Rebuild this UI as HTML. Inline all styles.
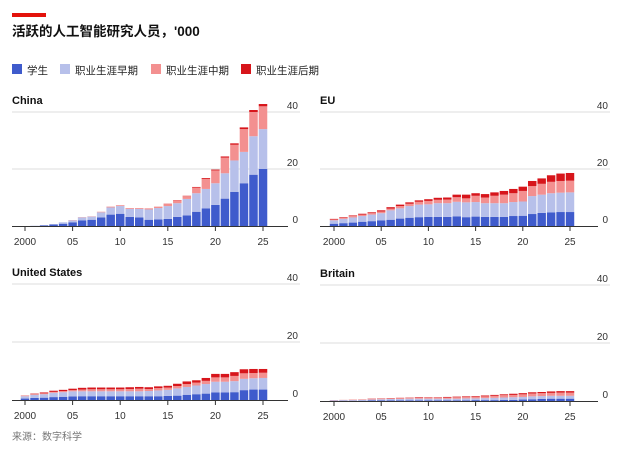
<!DOCTYPE html>
<html><head><meta charset="utf-8"><style>
body{margin:0;background:#fff;width:640px;height:453px;overflow:hidden;font-family:"Liberation Sans","Noto Sans CJK SC",sans-serif}
svg text{font-family:"Liberation Sans","Noto Sans CJK SC",sans-serif}
</style></head><body>
<svg id="c" width="640" height="453">
<rect x="12" y="13" width="34" height="4" fill="#e3120b"/>
<text x="12" y="36" font-size="13.5" font-weight="bold" fill="#111">活跃的人工智能研究人员，'000</text>
<g font-size="10.5" fill="#222">
<rect x="12" y="64" width="10" height="10" fill="#3f5bcc"/><text x="27" y="74">学生</text>
<rect x="60" y="64" width="10" height="10" fill="#b7c0ea"/><text x="75" y="74">职业生涯早期</text>
<rect x="151" y="64" width="10" height="10" fill="#f39090"/><text x="166" y="74">职业生涯中期</text>
<rect x="241" y="64" width="10" height="10" fill="#d7151b"/><text x="256" y="74">职业生涯后期</text>
</g>
<text x="12" y="440" font-size="10" fill="#777">来源：数字科学</text>
</svg>
<script>
const years=[2000,2001,2002,2003,2004,2005,2006,2007,2008,2009,2010,2011,2012,2013,2014,2015,2016,2017,2018,2019,2020,2021,2022,2023,2024,2025];
const yTicks=[0,20,40];
const xTickLabels=["2000","05","10","15","20","25"];
const xTickYears=[2000,2005,2010,2015,2020,2025];
const seriesNames=["students","early","mid","late"];
const colors=["#3f5bcc","#b7c0ea","#f39090","#d7151b"];
const chinaStudents=[0,0,0.2,0.5,0.8,1.3,2,2.2,3,4,4.3,3.2,3,2.2,2.3,2.5,3.2,3.7,5,6.2,7.4,9.6,12,15,18,20];
const chinaEarly=[0,0.1,0.3,0.7,1.3,2,3,3.3,4.8,6.5,7,6,6,5.8,6.3,7,8,9.5,11.5,13,15,18.5,23,26,31.5,34];
const chinaMid=[0,0.1,0.3,0.7,1.3,2.1,3.1,3.4,5,6.8,7.3,6.3,6.3,6.2,6.8,7.7,9,10.5,13.5,16.5,19.5,24,28.5,34,40,42];
const chinaLate=[0,0.1,0.3,0.7,1.3,2.1,3.1,3.4,5,6.8,7.3,6.3,6.3,6.2,6.8,7.8,9.1,10.6,13.7,16.8,19.8,24.4,29,34.6,40.7,42.8];
const euStudents=[0.8,1,1.2,1.5,1.7,2,2.2,2.6,2.9,3.1,3.2,3.2,3.2,3.4,3.1,3.3,3.2,3.2,3.2,3.5,3.6,4.2,4.6,4.8,4.9,4.9];
const euEarly=[2,2.5,3,3.5,4,4.5,5.5,6.2,7,7.5,7.6,8,8,8.5,8.3,8.4,8,8,8,8.4,8.6,10.5,11,11.5,11.7,11.8];
const euMid=[2.3,2.9,3.5,4,4.5,5.1,6.1,7,7.8,8.5,8.8,9.2,9.3,10.1,9.7,10.6,10,10.6,11,11.5,12.3,14,14.8,15.5,15.8,15.9];
const euLate=[2.5,3.1,3.7,4.3,4.8,5.5,6.6,7.5,8.3,9,9.4,9.9,10,11,11,11.5,11.2,11.8,12.3,13,13.8,15.8,16.7,17.8,18.4,18.6];
const usStudents=[0.5,0.7,0.8,1,1.1,1.2,1.3,1.3,1.3,1.3,1.3,1.3,1.3,1.3,1.3,1.4,1.5,1.8,2,2.2,2.6,2.6,2.7,3.4,3.6,3.6];
const usEarly=[1.3,1.8,2,2.5,2.7,3,3,3,3,3,3,3,3,3.1,3.3,3.5,4,4.5,5,5.5,6.3,6.3,6.5,7.3,7.5,7.6];
const usMid=[1.4,2,2.3,2.8,3.1,3.4,3.6,3.7,3.7,3.7,3.7,3.8,3.9,3.8,4.1,4.3,4.8,5.5,6,6.6,7.8,7.8,8.3,9.2,9.3,9.4];
const usLate=[1.5,2.2,2.6,3.2,3.5,3.9,4.2,4.3,4.3,4.3,4.3,4.4,4.5,4.4,4.7,4.9,5.6,6.4,6.8,7.6,9,9,9.6,10.6,10.7,10.7];
const brStudents=[0.1,0.1,0.1,0.1,0.2,0.2,0.2,0.2,0.2,0.2,0.2,0.2,0.2,0.2,0.2,0.3,0.3,0.3,0.4,0.4,0.5,0.6,0.7,0.8,0.8,0.8];
const brEarly=[0.2,0.3,0.3,0.4,0.5,0.6,0.7,0.7,0.8,0.8,0.8,0.8,0.8,0.8,0.9,0.9,1,1.1,1.2,1.3,1.4,1.6,1.7,1.8,1.8,1.8];
const brMid=[0.3,0.4,0.5,0.6,0.7,0.8,0.9,1,1.1,1.1,1.2,1.2,1.2,1.3,1.4,1.5,1.6,1.8,2,2.1,2.3,2.6,2.7,2.8,2.9,2.9];
const brLate=[0.3,0.4,0.5,0.6,0.8,0.9,1,1.1,1.2,1.3,1.3,1.3,1.4,1.5,1.6,1.7,1.9,2.1,2.3,2.5,2.7,3,3.1,3.3,3.4,3.4];
const NS="http://www.w3.org/2000/svg";
const svg=document.getElementById('c');
function mk(t,a,p){const e=document.createElementNS(NS,t);for(const k in a)e.setAttribute(k,a[k]);(p||svg).appendChild(e);return e;}
const panels=[
 {name:"China",slug:"china",x0:12,x1:300,xa:25,xb:263,y0:226,k:2.85,data:[chinaStudents,chinaEarly,chinaMid,chinaLate]},
 {name:"EU",slug:"eu",x0:320,x1:610,xa:334,xb:570,y0:226,k:2.85,data:[euStudents,euEarly,euMid,euLate]},
 {name:"United States",slug:"united-states",x0:12,x1:300,xa:25,xb:263,y0:400,k:2.9,data:[usStudents,usEarly,usMid,usLate]},
 {name:"Britain",slug:"britain",x0:320,x1:610,xa:334,xb:570,y0:401,k:2.9,data:[brStudents,brEarly,brMid,brLate]}
];
panels.forEach(p=>{
 const g=mk('g',{});
 
 
 const xs=y=>p.xa+(y-years[0])*(p.xb-p.xa)/(years[years.length-1]-years[0]);
 const ys=v=>p.y0-v*p.k;
 const t=mk('text',{x:p.x0,y:ys(40)-8,'font-size':11,'font-weight':'bold',fill:'#111'},g);t.textContent=p.name;
 
 
 yTicks.forEach(v=>{
  if(v>0){const l=mk('line',{x1:p.x0,x2:p.x1,y1:ys(v),y2:ys(v),stroke:'#ddd','stroke-width':1},g);
  
  }
  const tl=mk('text',{x:p.x1-2,y:ys(v)-3,'font-size':10,fill:'#333','text-anchor':'end'},g);tl.textContent=v;
  
  
 });
 const bw=(p.xb-p.xa)/25-1;
 years.forEach((yr,i)=>{
  let prev=0;
  p.data.forEach((s,j)=>{
   const top=s[i];const h=(top-prev)*p.k;
   if(h>0){const r=mk('rect',{x:xs(yr)-bw/2,y:ys(top),width:bw,height:h,fill:colors[j]},g);
   
   }
   prev=Math.max(prev,top);
  });
 });
 const ax=mk('line',{x1:p.x0,x2:p.x1-12,y1:p.y0+0.5,y2:p.y0+0.5,stroke:'#333','stroke-width':1},g);
 
 
 xTickYears.forEach((yr,i)=>{
  const tk=mk('line',{x1:xs(yr),x2:xs(yr),y1:p.y0,y2:p.y0+5,stroke:'#333'},g);
  
  
  const tl=mk('text',{x:xs(yr),y:p.y0+19,'font-size':10,fill:'#333','text-anchor':'middle'},g);tl.textContent=xTickLabels[i];
  
  
 });
});
</script>
</body></html>
